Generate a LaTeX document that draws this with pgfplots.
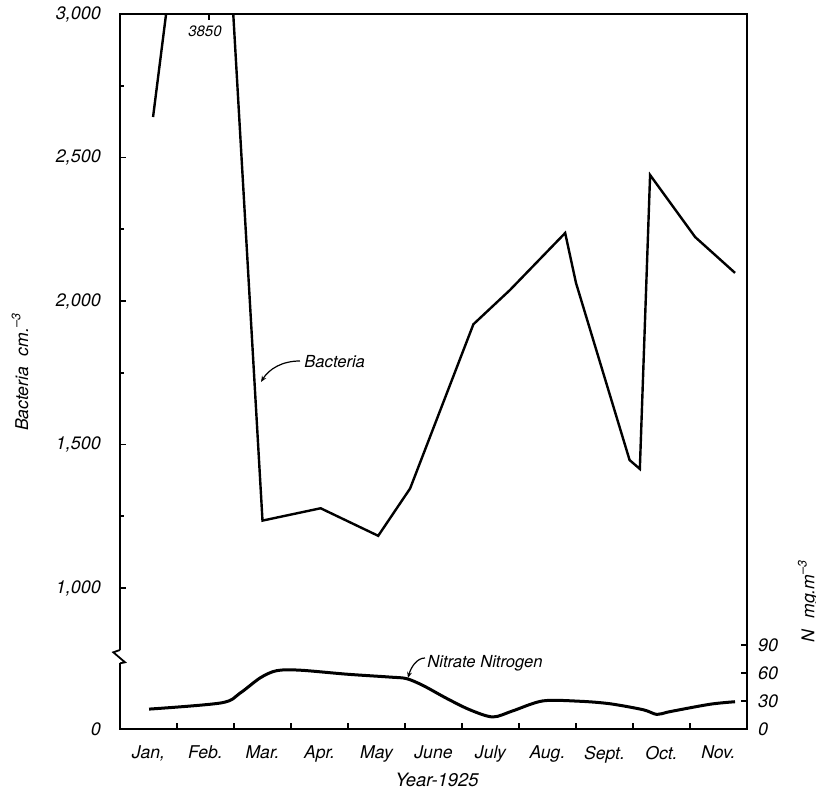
\documentclass[border=0pt]{standalone}
\usepackage{pgfplots}
\pgfplotsset{compat=1.18}
\usepackage{fontspec}
\setmainfont{TeX Gyre Heros}
\usetikzlibrary{arrows.meta}

\pgfplotstableread{
m v
0.58 2641
1.35 3850
1.74 3850
2.50 1235
3.52 1278
4.53 1182
5.09 1347
6.20 1919
6.84 2038
7.81 2237
8.00 2063
8.94 1446
9.12 1415
9.30 2439
10.09 2223
10.79 2098
}\bacteria

\pgfplotstableread{
m n
0.51 21.3
1.78 28.0
2.11 38.6
2.46 54.8
2.75 62.5
3.16 63.0
3.98 58.7
4.74 55.6
5.03 53.9
5.32 46.5
5.73 32.8
6.14 20.5
6.54 12.9
6.89 19.4
7.42 30.1
8.07 29.7
8.60 27.0
9.18 20.6
9.42 15.6
9.65 18.6
10.35 26.5
10.79 29.2
}\nitrate

\begin{document}
\begin{tikzpicture}[x=1pt,y=1pt]
\begin{axis}[
  name=bact,
  at={(0,0)}, anchor=south west,
  width=313.5pt, height=357.5pt, scale only axis,
  xmin=0, xmax=11, ymin=509, ymax=3000,
  axis line style={line width=1pt},
  tick align=inside,
  xtick pos=bottom, ytick pos=left,
  xtick={1,...,11},
  xticklabels={{Jan,},Feb.,Mar.,Apr.,May,June,July,Aug.,Sept.,Oct.,Nov.},
  xticklabel style={xshift=-14.25pt, yshift=-5pt, font=\fontsize{8.8}{10}\selectfont\itshape},
  ytick={509,1000,1500,2000,2500,3000},
  yticklabels={0,{1,000},{1,500},{2,000},{2,500},{3,000}},
  yticklabel style={xshift=-6pt, font=\fontsize{9}{10}\selectfont\itshape},
  minor ytick={1250,1750,2250,2750},
  major tick length=3.2pt, minor tick length=2pt,
  every tick/.style={black, line width=0.8pt},
]
\addplot[black, line width=1.2pt] table[x=m, y=v] {\bacteria};
\end{axis}
\begin{axis}[
  at={(0,0)}, anchor=south west,
  width=313.5pt, height=357.5pt, scale only axis,
  xmin=0, xmax=11, ymin=0, ymax=766,
  axis x line=none, axis y line*=right,
  axis line style={line width=1pt, -},
  tick align=inside,
  ytick={0,30,60,90}, yticklabels={0,30,60,90},
  yticklabel style={xshift=2pt, font=\fontsize{9}{10}\selectfont\itshape},
  major tick length=3pt,
  every tick/.style={black, line width=0.8pt},
]
\addplot[black, line width=1.5pt, smooth, tension=0.5] table[x=m, y=n] {\nitrate};
\end{axis}
\begin{scope}[shift={(bact.south west)}]
  % axis break mark
  \draw[white, line width=2pt] (0,33) -- (0,39.4);
  \draw[black, line width=0.9pt] (0,39.5) -- (-3.35,38.35) -- (2.5,33.35) -- (0,32.85);
  % top tick and peak value
  \draw[black, line width=0.8pt] (44.5,357.5) -- (44.5,354.3);
  \node[font=\fontsize{7.5}{9}\selectfont\itshape] at (42.5,349) {3850};
  % annotations
  \node[font=\fontsize{8.3}{10}\selectfont\itshape, anchor=west, inner sep=0pt] at (92,183.5) {Bacteria};
  \draw[line width=0.6pt, -{Stealth[length=3pt,width=2.4pt]}] (90,184) .. controls (81,184) and (74.5,180) .. (70.5,173.5);
  \node[font=\fontsize{8.3}{10}\selectfont\itshape, anchor=west, inner sep=0pt] at (153.5,33) {Nitrate Nitrogen};
  \draw[line width=0.6pt, -{Stealth[length=3pt,width=2.4pt]}] (152.5,35.5) .. controls (148.5,35.5) and (145.5,31) .. (144,25.5);
  % axis labels
  \node[font=\fontsize{9.2}{10}\selectfont\itshape] at (158.5,-25.5) {Year-1925};
  \node[font=\fontsize{8.8}{10}\selectfont\itshape, rotate=90] at (-50,178.5) {Bacteria\,\, cm.\textsuperscript{--3}};
  \node[font=\fontsize{8.8}{10}\selectfont\itshape, rotate=90] at (344,64) {N\,\, mg.m\textsuperscript{--3}};
\end{scope}
\pgfresetboundingbox
\path[use as bounding box, shift={(bact.south west)}] (-60,-31) rectangle (348,364.5);
\end{tikzpicture}
\end{document}
